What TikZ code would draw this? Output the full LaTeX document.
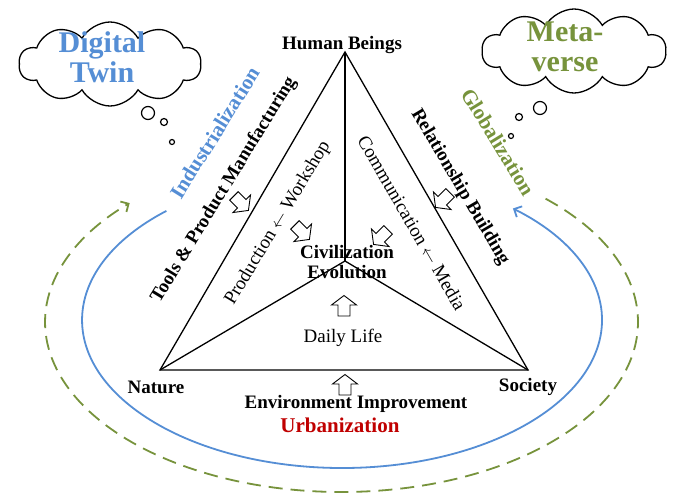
\documentclass[tikz,border=0pt]{standalone}
\usepackage{fontspec}
\setmainfont{Liberation Serif}
\usetikzlibrary{shapes.symbols,arrows.meta}
\definecolor{twinblue}{RGB}{85,142,213}
\definecolor{metagreen}{RGB}{119,147,60}
\definecolor{urbred}{RGB}{192,0,0}
\begin{document}
\begin{tikzpicture}[x=1pt,y=-1pt,
  edge/.style={draw=black, line width=1.3pt, line join=miter},
  lbl/.style={font=\bfseries\fontsize{19}{21}\selectfont, inner sep=0pt, align=center},
  lblreg/.style={font=\fontsize{19}{21}\selectfont, inner sep=0pt, align=center},
  biglbl/.style={font=\bfseries\fontsize{21}{23}\selectfont, inner sep=0pt},
  cloudbox/.style={cloud, draw, line width=1.3pt, cloud puffs=10, cloud puff arc=120,
     aspect=2, inner sep=0pt},
  cloudtext/.style={inner sep=0pt, align=center, font=\bfseries\fontsize{30}{29.5}\selectfont},
  bubble/.style={circle, draw, line width=1.2pt, inner sep=0pt},
  bluearc/.style={draw=twinblue, line width=1.8pt, -{Straight Barb[length=6pt,width=12pt]}},
  greenarc/.style={draw=metagreen, line width=1.8pt, dash pattern=on 14pt off 8pt, -{Straight Barb[length=6pt,width=12pt]}},
  blockarrow/.pic={\draw[fill=white, line width=0.9pt, line join=miter]
     (-10,-6) -- (1,-6) -- (1,-12.5) -- (10.5,0) -- (1,12.5) -- (1,6) -- (-10,6) -- cycle;}
]
\useasboundingbox (0,0) rectangle (683,496);
\fill[white] (0,0) rectangle (683,496);

% outer cycles
\coordinate (bs) at (166.4,210.9);
\draw[bluearc] (bs) arc[start angle=227.5, end angle=-48.9, x radius=260, y radius=148];
\coordinate (gs) at (545.6,198.7);
\draw[greenarc] (gs) arc[start angle=-46.5, end angle=224.4, x radius=296.5, y radius=170];

% triangle
\coordinate (H) at (345,52);
\coordinate (N) at (160,370);
\coordinate (S) at (528,370);
\coordinate (C) at (345,261);
\draw[edge] (H) -- (N) -- (S) -- cycle;
\draw[edge] (C) -- (H);
\draw[edge] (C) -- (N);
\draw[edge] (C) -- (S);

% vertex labels
\node[lbl] (hb) at (342,45) {Human Beings};
\node[lbl] (na) at (156,387) {Nature};
\node[lbl] (so) at (528,387) {Society};
\node[lbl] (ce) at (347,262) {Civilization\\[-1pt]Evolution};
\node[lblreg] (dl) at (343,338) {Daily Life};
\node[lbl] (ei) at (356,404) {Environment Improvement};
\node[biglbl, text=urbred] (ur) at (340,425) {Urbanization};

% side labels
\node[biglbl, text=twinblue, rotate=58] (ind) at (215,133) {Industrialization};
\node[lbl, rotate=58.5] (tpm) at (224,190) {Tools \& Product Manufacturing};
\node[lblreg, rotate=59] (pw) at (278,223) {Production $\leftarrow$ Workshop};
\node[biglbl, text=metagreen, rotate=-58.5] (glo) at (498,142) {Globalization};
\node[lbl, rotate=-59.5] (rb) at (460,187) {Relationship Building};
\node[lblreg, rotate=-60] (cm) at (412,223) {Communication $\leftarrow$ Media};

% block arrows
\pic[rotate=-45] at (241,203) {blockarrow};
\pic[rotate=-45] at (302,232) {blockarrow};
\pic[rotate=225] at (443,200) {blockarrow};
\pic[rotate=225] at (381,237) {blockarrow};
\pic[rotate=90] at (344,306) {blockarrow};
\pic[rotate=90] at (345,385) {blockarrow};

% clouds
\node[cloudbox, minimum width=182pt, minimum height=84pt] (dt) at (110,64) {};
\node[cloudtext, text=twinblue] (dtt) at (102,57) {Digital\\Twin};
\node[cloudbox, minimum width=184pt, minimum height=84pt] (mv) at (574,51) {};
\node[cloudtext, text=metagreen] (mvt) at (565,47) {Meta-\\verse};
\node[bubble, minimum size=13pt] (db1) at (148,113) {};
\node[bubble, minimum size=7pt] (db2) at (164,122) {};
\node[bubble, minimum size=5pt] (db3) at (172,142) {};
\node[bubble, minimum size=13pt] (mb1) at (540,108) {};
\node[bubble, minimum size=7pt] (mb2) at (519,117) {};
\node[bubble, minimum size=5pt] (mb3) at (511,136) {};
\end{tikzpicture}
\end{document}
